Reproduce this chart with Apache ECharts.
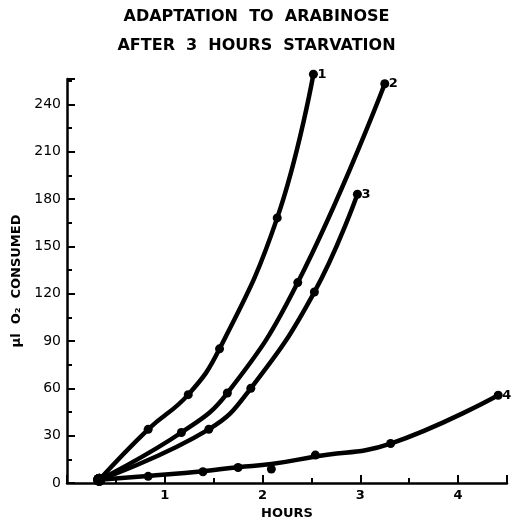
<!DOCTYPE html>
<html>
<head>
<meta charset="utf-8">
<script src="https://cdn.jsdelivr.net/npm/echarts@6/dist/echarts.min.js"></script>
<style>html,body{margin:0;padding:0;background:#fff}#c{width:513px;height:525px}</style>
</head>
<body>
<div id="c"></div>
<script>
const titleLines = ['ADAPTATION  TO  ARABINOSE', 'AFTER  3  HOURS  STARVATION'];
const xTickLabels = ['1', '2', '3', '4'];
const seriesNames = ['1', '2', '3', '4'];
// measured points (dots)
const hours1 = [0.33, 0.83, 1.24, 1.56, 2.15, 2.52];
const vals1  = [2, 34, 56, 85, 168, 259];
const hours2 = [0.33, 1.17, 1.64, 2.36, 3.25];
const vals2  = [2, 32, 57, 127, 253];
const hours3 = [0.33, 1.45, 1.88, 2.53, 2.97];
const vals3  = [2, 34, 60, 121, 183];
const hours4 = [0.33, 0.83, 1.39, 1.75, 2.09, 2.54, 3.31, 4.41];
const vals4  = [2, 4.2, 7.1, 9.8, 8.8, 17.7, 25, 55.6];
// hand-drawn curve 4 at the same hours (it passes above the 2.09 h dot)
const curve4 = [2, 4.5, 7.5, 10, 12, 16.8, 25, 55.6];

const hoursAll = [hours1, hours2, hours3, hours4];
const valsAll = [vals1, vals2, vals3, vals4];
const lineVals = [vals1, vals2, vals3, curve4];

const chart = echarts.init(document.getElementById('c'));
const FONT = '"DejaVu Sans", "Liberation Sans", sans-serif';

const series = [];
seriesNames.forEach((name, i) => {
  series.push({
    name: name,
    type: 'line',
    smooth: 0.45,
    clip: false,
    data: hoursAll[i].map((h, j) => [h, lineVals[i][j]]),
    symbol: 'none',
    lineStyle: { color: '#000', width: 4.5 },
    itemStyle: { color: '#000' },
    endLabel: {
      show: true,
      formatter: name,
      color: '#000',
      fontFamily: FONT,
      fontWeight: 'bold',
      fontSize: 13,
      distance: 4
    },
    z: 2
  });
  series.push({
    name: name + ' points',
    type: 'scatter',
    clip: false,
    data: hoursAll[i].map((h, j) => [h, valsAll[i][j]]),
    symbol: 'circle',
    symbolSize: (v, p) => (p.dataIndex === 0 ? 12 : 9),
    itemStyle: { color: '#000', opacity: 1 },
    z: 3
  });
});

chart.setOption({
  animation: false,
  backgroundColor: '#fff',
  title: {
    text: titleLines.join('\n'),
    left: 'center',
    top: -3,
    textStyle: {
      fontFamily: FONT,
      fontWeight: 'bold',
      fontSize: 16,
      lineHeight: 29,
      color: '#000'
    }
  },
  grid: { left: 67, right: 6, top: 79, bottom: 36 },
  xAxis: {
    type: 'value',
    min: 0,
    max: 4.5,
    interval: 1,
    name: 'HOURS',
    nameLocation: 'middle',
    nameGap: 24,
    nameTextStyle: { fontFamily: FONT, fontWeight: 'bold', fontSize: 13, color: '#000' },
    axisLine: { lineStyle: { color: '#000', width: 2.5 } },
    axisTick: { inside: true, length: 8, lineStyle: { color: '#000', width: 2 } },
    minorTick: { show: true, splitNumber: 2, length: 5, lineStyle: { color: '#000', width: 2 } },
    splitLine: { show: false },
    axisLabel: {
      fontFamily: FONT, fontSize: 13, fontWeight: 'bold', color: '#000', margin: 6,
      formatter: v => { const k = Math.round(v) - 1; return (Math.abs(v - Math.round(v)) < 1e-6 && k >= 0 && k < xTickLabels.length) ? xTickLabels[k] : ''; }
    }
  },
  yAxis: {
    type: 'value',
    min: 0,
    max: 256,
    interval: 30,
    name: 'μl  O₂  CONSUMED',
    nameLocation: 'middle',
    nameRotate: 90,
    nameGap: 44,
    nameTextStyle: { fontFamily: FONT, fontWeight: 'bold', fontSize: 13, color: '#000' },
    axisLine: { lineStyle: { color: '#000', width: 2.5 } },
    axisTick: { inside: true, length: 8, lineStyle: { color: '#000', width: 2 } },
    minorTick: { show: true, splitNumber: 2, length: 5, lineStyle: { color: '#000', width: 2 } },
    splitLine: { show: false },
    axisLabel: {
      fontFamily: FONT, fontSize: 14, color: '#000', margin: 6, showMaxLabel: false,
      formatter: v => (v % 30 === 0 ? String(v) : '')
    }
  },
  series: series
});
</script>
</body>
</html>
